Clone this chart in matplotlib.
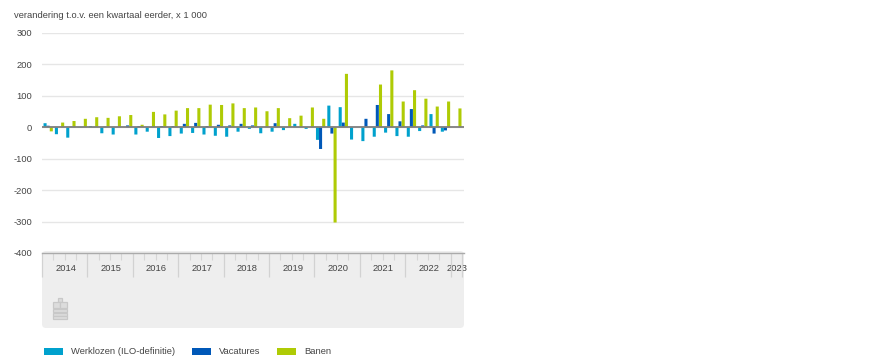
import matplotlib
matplotlib.use('Agg')
import matplotlib.pyplot as plt
import numpy as np
from matplotlib.patches import FancyBboxPatch, Rectangle

plt.rcParams['font.family'] = ['Liberation Sans', 'DejaVu Sans']

years = ['2014', '2015', '2016', '2017', '2018', '2019', '2020', '2021', '2022', '2023']
quarters_per_year = [4, 4, 4, 4, 4, 4, 4, 4, 4, 1]
yticks = [300, 200, 100, 0, -100, -200, -300, -400]

werklozen = [13, -22, -33, 1, 4, -19, -23, 0,
             -23, -14, -34, -28, -20, -18, -23, -27,
             -30, -14, -5, -19, -14, -9, 11, -5,
             -40, 69, 64, -39, -44, -30, -17, -28,
             -30, -12, 42, -14, 0]
vacatures = [5, 0, 2, 1, 1, 2, 1, 6,
             4, 1, 4, 4, 11, 14, 4, 8,
             6, 11, 6, 0, 13, 1, 1, 0,
             -69, -20, 15, 0, 27, 71, 42, 19,
             58, 6, -20, -10, 0]
banen = [-13, 15, 20, 27, 32, 30, 35, 39,
         8, 49, 41, 53, 61, 61, 72, 71,
         76, 61, 63, 51, 61, 29, 37, 63,
         27, -303, 170, 0, 1, 136, 181, 82,
         118, 91, 66, 82, 60]

series_names = ['Werklozen (ILO-definitie)', 'Vacatures', 'Banen']
colors = ['#00a1cd', '#0058b8', '#afcb05']
text_color = '#444444'
fs = 6.75

fig = plt.figure(figsize=(8.74, 3.62), dpi=100)

# overlay in pixel coords for panel, logo and legend
bg = fig.add_axes([0, 0, 1, 1], zorder=0)
bg.set_xlim(0, 874)
bg.set_ylim(362, 0)
bg.axis('off')
bg.add_patch(FancyBboxPatch((44, 253), 418, 73, boxstyle='round,pad=2,rounding_size=4',
                            fc='#eeeeee', ec='none'))

# cbs logo, rough
logo = '#c8c8c8'
for (x, y, w, h) in [(58, 297.5, 3.5, 4), (53, 301.5, 6.5, 6.5), (60, 301.5, 6.5, 6.5),
                     (53, 309, 13.5, 3), (53, 312.5, 13.5, 3), (53, 316, 13.5, 3)]:
    bg.add_patch(Rectangle((x, y), w, h, fc='#dcdcdc', ec=logo, lw=0.9))

ax = fig.add_axes([42 / 874, 1 - 253 / 362, 422 / 874, 220 / 362], zorder=1)
ax.patch.set_alpha(0)

n = len(banen)
x = np.arange(n) + 0.5
px = 37 / 420
for vals, off, col, name in zip([werklozen, vacatures, banen], [-0.23, 0.04, 0.32], colors, series_names):
    ax.bar(x + off, vals, width=0.27, color=col, label=name, zorder=3, snap=False)

ax.set_xlim(0, 422 * px)
ax.set_ylim(-400, 300)
ax.set_yticks(yticks)
ax.set_yticklabels([str(v) for v in yticks], fontsize=fs, color=text_color)
ax.tick_params(axis='y', length=0, pad=7)
ax.grid(axis='y', color='#e6e6e6', lw=1, zorder=0)
ax.axhline(0, color='#7f7f7f', lw=1.3, zorder=4)
for s in ['top', 'left', 'right']:
    ax.spines[s].set_visible(False)
ax.spines['bottom'].set_color('#aaaaaa')
ax.spines['bottom'].set_linewidth(1)

# year labels in the middle, quarter ticks and long year boundaries
starts = np.cumsum([0] + quarters_per_year)
centers = (starts[:-1] + starts[1:]) / 2
ax.set_xticks(centers + 1 * px)
ax.set_xticklabels(years, fontsize=fs, color=text_color)
ax.tick_params(axis='x', which='major', length=0, pad=8)
ax.set_xticks([q for q in range(n) if q not in starts], minor=True)
ax.tick_params(axis='x', which='minor', length=5, width=0.8, color='#d6d6d6')
ax.vlines(starts, -0.11, 0, transform=ax.get_xaxis_transform(), color='#d2d2d2', lw=0.9, clip_on=False)

fig.text(14 / 874, 1 - 16 / 362, 'verandering t.o.v. een kwartaal eerder, x 1 000',
         fontsize=fs, color=text_color, va='center', ha='left')

# legend
for sx, tx, col, name in zip([44, 192, 277], [71, 219, 304], colors, series_names):
    bg.add_patch(Rectangle((sx, 347.5), 19, 7, fc=col, ec='none'))
    bg.text(tx, 351.5, name, fontsize=fs, color=text_color, va='center', ha='left')

fig.savefig('out.png', dpi=100)
